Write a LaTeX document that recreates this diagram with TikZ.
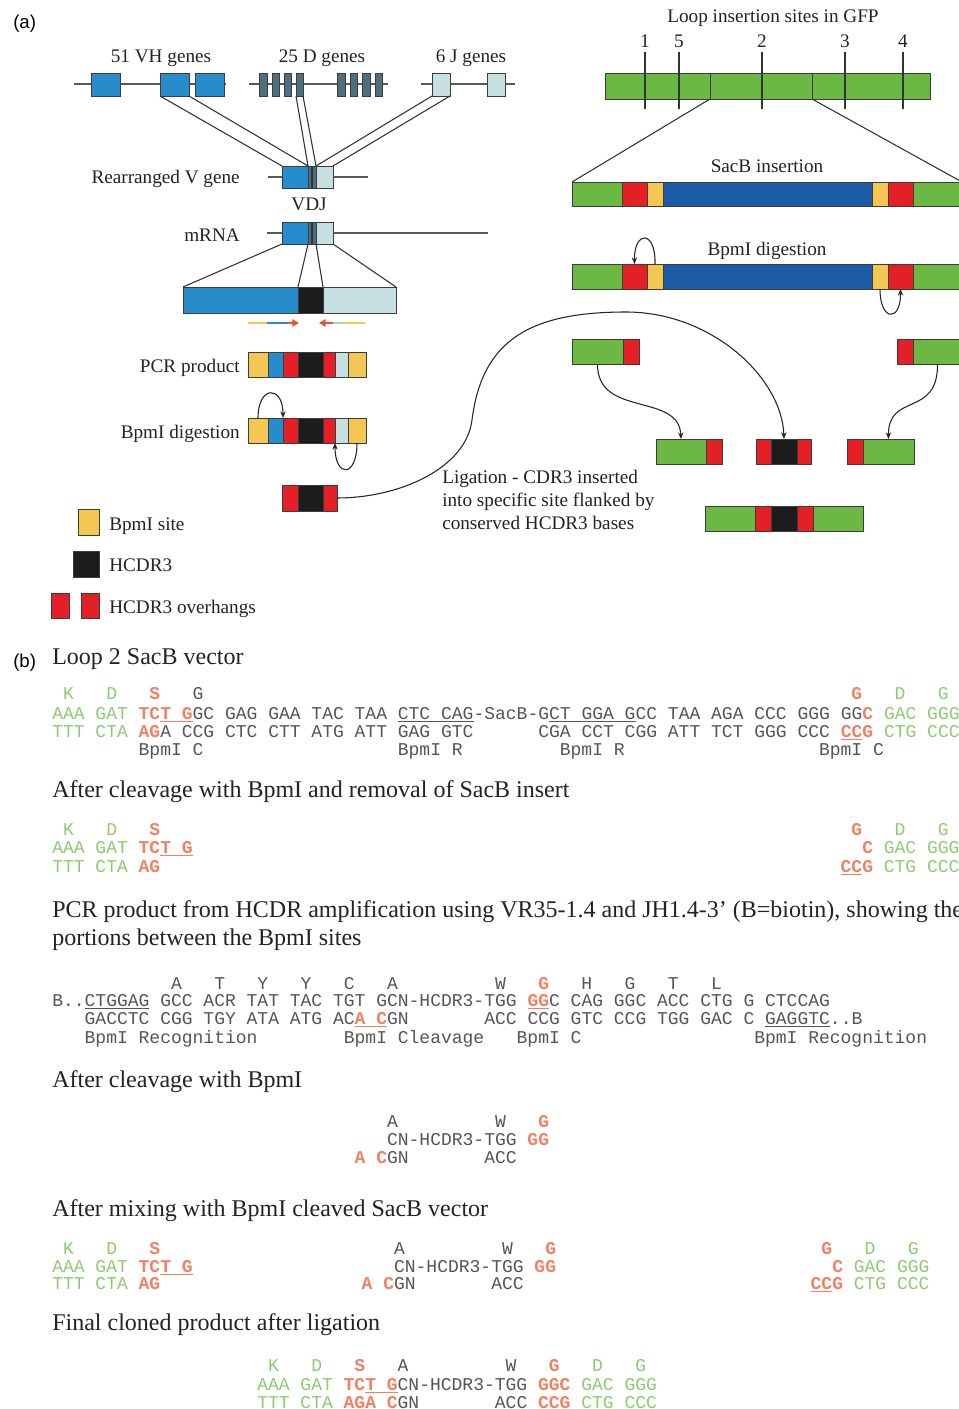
\documentclass[tikz,border=0pt]{standalone}
\usepackage{fontspec}
\setmainfont{Liberation Serif}
\newfontfamily\seqfont{Liberation Mono}
\newfontfamily\labfont{Liberation Sans}
\usetikzlibrary{arrows.meta,calc}

\definecolor{vhblue}{RGB}{38,140,204}
\definecolor{sacblue}{RGB}{27,90,165}
\definecolor{dgene}{RGB}{78,112,124}
\definecolor{jlight}{RGB}{198,224,226}
\definecolor{gfpgreen}{RGB}{108,184,68}
\definecolor{hred}{RGB}{228,32,38}
\definecolor{bpmyellow}{RGB}{246,198,82}
\definecolor{cdrblack}{RGB}{28,28,28}
\definecolor{boxline}{RGB}{60,60,60}
\definecolor{textdark}{RGB}{35,35,35}
\definecolor{seqgray}{RGB}{85,85,85}
\definecolor{seqgreen}{RGB}{140,204,112}
\definecolor{seqred}{RGB}{242,128,98}
\definecolor{primred}{RGB}{236,80,50}

\newcommand\grn[1]{\textcolor{seqgreen}{#1}}
\newcommand\rdd[1]{\textcolor{seqred}{\bfseries #1}}
\newcommand\segbox[6]{\node[seg, fill=#6, minimum width={(#3-#2)*0.75pt}, minimum height={(#5-#4)*0.75pt}] (#1) at ({(#2+#3)/2},{(#4+#5)/2}) {};}
\newcommand\seqat[5]{\node[seqt] (#1) at ({#2+#3*10.8},#4) {#5};}

\begin{document}
\begin{tikzpicture}[x=0.75pt,y=-0.75pt,
 seg/.style={rectangle, draw=boxline, line width=0.6pt, inner sep=0pt, outer sep=0pt},
 gline/.style={draw=black!65, line width=0.9pt},
 link/.style={draw=black!80, line width=0.8pt},
 lab/.style={font=\fontsize{14.4pt}{17pt}\selectfont, text=textdark, inner sep=0pt},
 head/.style={font=\fontsize{18pt}{21pt}\selectfont, text=textdark, inner sep=0pt, anchor=base west},
 seqt/.style={font=\seqfont\fontsize{13.5pt}{16pt}\selectfont, text=seqgray, inner sep=0pt, anchor=base west},
 panel/.style={font=\labfont\fontsize{14pt}{17pt}\selectfont, text=black, inner sep=0pt, anchor=base west},
 arr/.style={draw=black!85, line width=0.8pt, -{Stealth[length=5pt,width=4pt]}},
 primer/.style={line width=2.2pt}
]
\useasboundingbox (0,0) rectangle (959,1409);
\fill[white] (0,0) rectangle (959,1409);
\clip (0,0) rectangle (959,1409);

% ---------------- panel labels
\node[panel] (pa) at (13,29) {(a)};
\node[panel] (pb) at (13,667) {(b)};

% ---------------- germline genes
\coordinate (vhL) at (74,84); \coordinate (vhR) at (226,84);
\coordinate (dL) at (249,84); \coordinate (dR) at (388,84);
\coordinate (jL) at (421,84); \coordinate (jR) at (515,84);
\draw[gline] (vhL) -- (vhR);
\draw[gline] (dL) -- (dR);
\draw[gline] (jL) -- (jR);
\segbox{vh1}{91}{120}{73}{96}{vhblue}
\segbox{vh2}{160}{189}{73}{96}{vhblue}
\segbox{vh3}{195}{224}{73}{96}{vhblue}
\segbox{d1}{259}{267}{73}{96}{dgene}
\segbox{d2}{272}{279}{73}{96}{dgene}
\segbox{d3}{284}{291}{73}{96}{dgene}
\segbox{d4}{296}{303}{73}{96}{dgene}
\segbox{d5}{337}{345}{73}{96}{dgene}
\segbox{d6}{350}{357}{73}{96}{dgene}
\segbox{d7}{362}{370}{73}{96}{dgene}
\segbox{d8}{375}{382}{73}{96}{dgene}
\segbox{j1}{432}{450}{73}{96}{jlight}
\segbox{j2}{487}{505}{73}{96}{jlight}
\node[lab, anchor=base] (lvh) at (161,63) {51 VH genes};
\node[lab, anchor=base] (ld) at (322,63) {25 D genes};
\node[lab, anchor=base] (lj) at (471,63) {6 J genes};

% ---------------- rearranged gene
\coordinate (rL) at (268,177); \coordinate (rR) at (368,177);
\draw[gline] (rL) -- (rR);
\segbox{rv}{282}{308}{166}{188}{vhblue}
\segbox{rd}{308}{316}{166}{188}{dgene}
\segbox{rj}{316}{333}{166}{188}{jlight}
\draw[link] (rd.north) -- (rd.south);
\draw[link] (vh2.south west) -- (rv.north west);
\draw[link] (vh2.south east) -- (rv.north east);
\draw[link] (d4.south west) -- (rd.north west);
\draw[link] (d4.south east) -- (rd.north east);
\draw[link] (j1.south west) -- (rj.north west);
\draw[link] (j1.south east) -- (rj.north east);
\node[lab, anchor=base east] (lrv) at (240,184) {Rearranged V gene};
\node[lab, anchor=base] (lvdj) at (309,210) {VDJ};

% ---------------- mRNA
\coordinate (mL) at (267,233); \coordinate (mR) at (488,233);
\draw[gline] (mL) -- (mR);
\segbox{mv}{282}{308}{222}{244}{vhblue}
\segbox{md}{308}{316}{222}{244}{dgene}
\segbox{mj}{316}{333}{222}{244}{jlight}
\draw[link] (md.north) -- (md.south);
\node[lab, anchor=base east] (lmr) at (240,241) {mRNA};

% ---------------- expanded VDJ
\segbox{ev}{183}{298}{287}{313}{vhblue}
\segbox{ec}{298}{323}{287}{313}{cdrblack}
\segbox{ej}{323}{396}{287}{313}{jlight}
\draw[link] (mv.south west) -- (ev.north west);
\draw[link] (md.south west) -- (ec.north west);
\draw[link] (md.south east) -- (ec.north east);
\draw[link] (mj.south east) -- (ej.north east);

% ---------------- primers
\coordinate (pl1) at (248,323); \coordinate (pl2) at (267,323);
\coordinate (pl3) at (287,323); \coordinate (pl4) at (299,323);
\draw[primer, bpmyellow] (pl1) -- (pl2);
\draw[primer, vhblue] (pl2) -- (pl3);
\draw[primer, primred, -{Triangle[length=5pt,width=5.5pt]}] (pl3) -- (pl4);
\coordinate (pr1) at (319,323); \coordinate (pr2) at (333,323);
\coordinate (pr3) at (343,323); \coordinate (pr4) at (365,323);
\draw[primer, primred, -{Triangle[length=5pt,width=5.5pt]}] (pr2) -- (pr1);
\draw[primer, jlight!80!vhblue] (pr2) -- (pr3);
\draw[primer, bpmyellow] (pr3) -- (pr4);

% ---------------- PCR product
\segbox{p1}{248}{268}{352}{377}{bpmyellow}
\segbox{p2}{268}{283}{352}{377}{vhblue}
\segbox{p3}{283}{298}{352}{377}{hred}
\segbox{p4}{298}{323}{352}{377}{cdrblack}
\segbox{p5}{323}{335}{352}{377}{hred}
\segbox{p6}{335}{348}{352}{377}{jlight}
\segbox{p7}{348}{366}{352}{377}{bpmyellow}
\node[lab, anchor=base east] (lpcr) at (240,372) {PCR product};

% ---------------- BpmI digestion (left)
\segbox{q1}{248}{268}{418}{443}{bpmyellow}
\segbox{q2}{268}{283}{418}{443}{vhblue}
\segbox{q3}{283}{298}{418}{443}{hred}
\segbox{q4}{298}{323}{418}{443}{cdrblack}
\segbox{q5}{323}{335}{418}{443}{hred}
\segbox{q6}{335}{348}{418}{443}{jlight}
\segbox{q7}{348}{366}{418}{443}{bpmyellow}
\node[lab, anchor=base east] (ldig) at (240,438) {BpmI digestion};
\draw[arr] (q1.north) .. controls (258,385) and (283,385) .. (q2.north east);
\draw[arr] (q7.south) .. controls (357,478) and (335,478) .. (q5.south east);

% ---------------- excised HCDR3 fragment
\segbox{f1}{282}{298}{485}{511}{hred}
\segbox{f2}{298}{323}{485}{511}{cdrblack}
\segbox{f3}{323}{337}{485}{511}{hred}

% ---------------- legend
\segbox{leg1}{78}{99}{509}{535}{bpmyellow}
\segbox{leg2}{73}{99}{551}{577}{cdrblack}
\segbox{leg3a}{51}{69}{593}{618}{hred}
\segbox{leg3b}{81}{99}{593}{618}{hred}
\node[lab, anchor=base west] (lleg1) at (109,530) {BpmI site};
\node[lab, anchor=base west] (lleg2) at (109,571) {HCDR3};
\node[lab, anchor=base west] (lleg3) at (109,613) {HCDR3 overhangs};

% ---------------- GFP
\node[lab, anchor=base] (lgfp) at (773,23) {Loop insertion sites in GFP};
\segbox{g1}{605}{710}{73}{99}{gfpgreen}
\segbox{g2}{710}{812}{73}{99}{gfpgreen}
\segbox{g3}{812}{930}{73}{99}{gfpgreen}
\node[lab, anchor=base] (n1) at (645,48) {1};
\node[lab, anchor=base] (n5) at (679,48) {5};
\node[lab, anchor=base] (n2) at (762,48) {2};
\node[lab, anchor=base] (n3) at (845,48) {3};
\node[lab, anchor=base] (n4) at (903,48) {4};
\foreach \tx in {645,679,762,845,903} {\draw[link] (\tx,52) -- (\tx,109);}

% ---------------- SacB insertion
\node[lab, anchor=base] (lsac) at (767,172) {SacB insertion};
\segbox{s1}{572}{622}{182}{206}{gfpgreen}
\segbox{s2}{622}{647}{182}{206}{hred}
\segbox{s3}{647}{663}{182}{206}{bpmyellow}
\segbox{s4}{663}{872}{182}{206}{sacblue}
\segbox{s5}{872}{888}{182}{206}{bpmyellow}
\segbox{s6}{888}{913}{182}{206}{hred}
\segbox{s7}{913}{962}{182}{206}{gfpgreen}
\draw[link] (g1.south east) -- (s1.north west);
\draw[link] (g2.south east) -- (s7.north east);

% ---------------- BpmI digestion (right)
\node[lab, anchor=base] (ldig2) at (767,255) {BpmI digestion};
\segbox{t1}{572}{622}{264}{289}{gfpgreen}
\segbox{t2}{622}{647}{264}{289}{hred}
\segbox{t3}{647}{663}{264}{289}{bpmyellow}
\segbox{t4}{663}{872}{264}{289}{sacblue}
\segbox{t5}{872}{888}{264}{289}{bpmyellow}
\segbox{t6}{888}{913}{264}{289}{hred}
\segbox{t7}{913}{962}{264}{289}{gfpgreen}
\draw[arr] (t3.north) .. controls (656,230) and (634,230) .. (t2.north);
\draw[arr] (t5.south) .. controls (880,322) and (901,322) .. (t6.south);

% ---------------- vector fragments
\segbox{lf1}{572}{623}{339}{364}{gfpgreen}
\segbox{lf2}{623}{639}{339}{364}{hred}
\segbox{rf1}{897}{913}{339}{364}{hred}
\segbox{rf2}{913}{962}{339}{364}{gfpgreen}
\segbox{a1}{656}{706}{439}{464}{gfpgreen}
\segbox{a2}{706}{722}{439}{464}{hred}
\segbox{b1}{756}{771}{439}{464}{hred}
\segbox{b2}{771}{797}{439}{464}{cdrblack}
\segbox{b3}{797}{811}{439}{464}{hred}
\segbox{c1}{847}{863}{439}{464}{hred}
\segbox{c2}{863}{914}{439}{464}{gfpgreen}
\segbox{e1}{705}{755}{506}{531}{gfpgreen}
\segbox{e2}{755}{771}{506}{531}{hred}
\segbox{e3}{771}{797}{506}{531}{cdrblack}
\segbox{e4}{797}{813}{506}{531}{hred}
\segbox{e5}{813}{863}{506}{531}{gfpgreen}
\draw[arr] (lf1.south) .. controls (597,418) and (679,392) .. (a1.north);
\draw[arr] (rf2.south) .. controls (938,418) and (888,392) .. (c2.north);
\draw[arr] (f3.east) .. controls (400,498) and (466,468) .. (472,420)
   .. controls (482,340) and (530,312) .. (626,312)
   .. controls (712,312) and (782,378) .. (b2.north);
\node[lab, anchor=base west] (lig1) at (442,483) {Ligation - CDR3 inserted};
\node[lab, anchor=base west] (lig2) at (442,506) {into specific site flanked by};
\node[lab, anchor=base west] (lig3) at (442,529) {conserved HCDR3 bases};

% ================= panel (b)
\node[head] (h1) at (52,664) {Loop 2 SacB vector};
\seqat{s1a}{52}{1}{699}{\grn{K~~~D}~~~\rdd{S}~~~G}
\seqat{s1b}{52}{74}{699}{\rdd{G}~~~\grn{D~~~G}}
\seqat{s1c}{52}{0}{719}{\grn{AAA~GAT}~\rdd{TC\underline{T~G}}GC~GAG~GAA~TAC~TAA~\underline{CTC~CAG}-SacB-G\underline{CT~GGA~G}CC~TAA~AGA~CCC~GGG~GG\rdd{C}~\grn{GAC~GGG}}
\seqat{s1d}{52}{0}{737}{\grn{TTT~CTA}~\rdd{AG}A~CCG~CTC~CTT~ATG~ATT~GAG~GTC~~~~~~CGA~CCT~CGG~ATT~TCT~GGG~CCC~\rdd{\underline{CC}G}~\grn{CTG~CCC}}
\seqat{s1e}{52}{8}{755}{BpmI~C}
\seqat{s1f}{52}{32}{755}{BpmI~R}
\seqat{s1g}{52}{47}{755}{BpmI~R}
\seqat{s1h}{52}{71}{755}{BpmI~C}

\node[head] (h2) at (52,797) {After cleavage with BpmI and removal of SacB insert};
\seqat{s2a}{52}{1}{835}{\grn{K~~~D}~~~\rdd{S}}
\seqat{s2b}{52}{74}{835}{\rdd{G}~~~\grn{D~~~G}}
\seqat{s2c}{52}{0}{853}{\grn{AAA~GAT}~\rdd{TC\underline{T~G}}}
\seqat{s2d}{52}{75}{853}{\rdd{C}~\grn{GAC~GGG}}
\seqat{s2e}{52}{0}{872}{\grn{TTT~CTA}~\rdd{AG}}
\seqat{s2f}{52}{73}{872}{\rdd{\underline{CC}G}~\grn{CTG~CCC}}

\node[head] (h3) at (52,917) {PCR product from HCDR amplification using VR35-1.4 and JH1.4-3’ (B=biotin), showing the};
\node[head] (h3b) at (52,945) {portions between the BpmI sites};
\seqat{s3a}{52}{11}{989}{A~~~T~~~Y~~~Y~~~C~~~A}
\seqat{s3b}{52}{41}{989}{W~~~\rdd{G}~~~H~~~G~~~T~~~L}
\seqat{s3c}{52}{0}{1006}{B..\underline{CTGGAG}~GCC~ACR~TAT~TAC~TGT~GCN-HCDR3-TGG~\rdd{\underline{GG}}C~CAG~GGC~ACC~CTG~G~CTCCAG}
\seqat{s3d}{52}{3}{1024}{GACCTC~CGG~TGY~ATA~ATG~AC\rdd{\underline{A~C}}GN~~~~~~~ACC~CCG~GTC~CCG~TGG~GAC~C~\underline{GAGGTC}..B}
\seqat{s3e}{52}{3}{1043}{BpmI~Recognition}
\seqat{s3f}{52}{27}{1043}{BpmI~Cleavage}
\seqat{s3g}{52}{43}{1043}{BpmI~C}
\seqat{s3h}{52}{65}{1043}{BpmI~Recognition}

\node[head] (h4) at (52,1087) {After cleavage with BpmI};
\seqat{s4a}{52}{31}{1127}{A~~~~~~~~~W~~~\rdd{G}}
\seqat{s4b}{52}{31}{1145}{CN-HCDR3-TGG~\rdd{GG}}
\seqat{s4c}{52}{28}{1163}{\rdd{A~C}GN~~~~~~~ACC}

\node[head] (h5) at (52,1216) {After mixing with BpmI cleaved SacB vector};
\seqat{s5a}{52}{1}{1254}{\grn{K~~~D}~~~\rdd{S}}
\seqat{s5b}{52}{0}{1272}{\grn{AAA~GAT}~\rdd{TC\underline{T~G}}}
\seqat{s5c}{52}{0}{1289}{\grn{TTT~CTA}~\rdd{AG}}
\seqat{s5d}{59}{31}{1254}{A~~~~~~~~~W~~~\rdd{G}}
\seqat{s5e}{59}{31}{1272}{CN-HCDR3-TGG~\rdd{GG}}
\seqat{s5f}{59}{28}{1289}{\rdd{A~C}GN~~~~~~~ACC}
\seqat{s5g}{22}{74}{1254}{\rdd{G}~~~\grn{D~~~G}}
\seqat{s5h}{22}{75}{1272}{\rdd{C}~\grn{GAC~GGG}}
\seqat{s5i}{22}{73}{1289}{\rdd{\underline{CC}G}~\grn{CTG~CCC}}

\node[head] (h6) at (52,1330) {Final cloned product after ligation};
\seqat{s6a}{257}{1}{1371}{\grn{K~~~D}~~~\rdd{S}~~~A~~~~~~~~~W~~~\rdd{G}~~~\grn{D~~~G}}
\seqat{s6b}{257}{0}{1390}{\grn{AAA~GAT}~\rdd{TC\underline{T~G}}CN-HCDR3-TGG~\rdd{GGC}~\grn{GAC~GGG}}
\seqat{s6c}{257}{0}{1408}{\grn{TTT~CTA}~\rdd{AGA~C}GN~~~~~~~ACC~\rdd{CCG}~\grn{CTG~CCC}}
\end{tikzpicture}
\end{document}
